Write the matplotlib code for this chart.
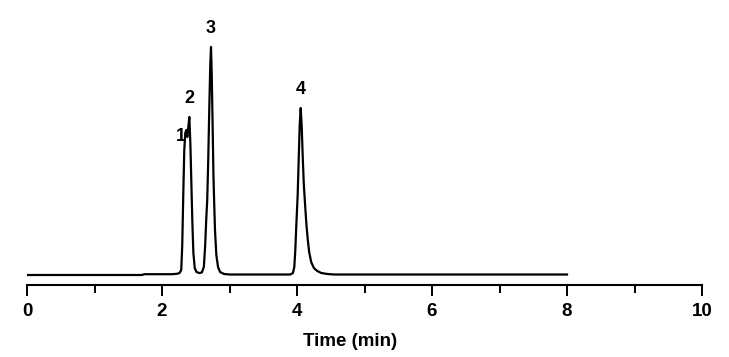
import matplotlib
matplotlib.use("Agg")
import matplotlib.pyplot as plt
from matplotlib.ticker import MultipleLocator

plt.rcParams['font.family'] = ['Liberation Sans', 'DejaVu Sans']
plt.rcParams['font.weight'] = 'bold'

# chromatogram trace (time in min, detector signal in a.u.)
time = [0.00, 1.70, 1.74, 2.15, 2.22, 2.26, 2.285, 2.30, 2.315, 2.33, 2.345,
        2.36, 2.375, 2.39, 2.405, 2.42, 2.435, 2.45, 2.465, 2.485, 2.51,
        2.55, 2.59, 2.62, 2.64, 2.655, 2.67, 2.685, 2.70, 2.715, 2.726,
        2.737, 2.75, 2.762, 2.772, 2.785, 2.805, 2.83, 2.86, 2.92, 3.00,
        3.90, 3.94, 3.96, 3.975, 3.99, 4.01, 4.025, 4.04, 4.055, 4.07,
        4.085, 4.10, 4.12, 4.14, 4.16, 4.18, 4.21, 4.25, 4.30, 4.36,
        4.45, 4.55, 8.00]
signal = [0, 0, 0.8, 0.8, 1.2, 2, 5, 30, 80, 125, 142,
          145, 138, 148, 158, 132, 92, 52, 22, 7, 3,
          2, 2.5, 8, 30, 55, 75, 115, 165, 210, 228,
          200, 150, 100, 75, 45, 20, 8, 3, 1, 0.5,
          0.5, 2, 8, 25, 50, 80, 115, 150, 167, 148,
          118, 92, 70, 50, 35, 23, 13, 7, 4, 2,
          1, 0.5, 0.5]

peak_names = ['1', '2', '3', '4']
peak_times = [2.36, 2.405, 2.726, 4.055]
peak_heights = [145, 158, 228, 167]

fig = plt.figure(figsize=(7.29, 3.57), dpi=100)
ax = fig.add_axes([27/729, 72/357, 675/729, 265/357])

ax.plot(time, signal, color='black', lw=1.6, solid_joinstyle='round')

# peak labels, placed relative to each apex
offsets = [(-4, -5), (0, 13.5), (0, 13), (0, 13.5)]
for name, t, h, off in zip(peak_names, peak_times, peak_heights, offsets):
    ax.annotate(name, (t, h), xytext=off, textcoords='offset points',
                ha='center', va='center', fontsize=13, fontweight='bold')

ax.set_xlim(0, 10)
ax.set_ylim(-10, 255)
ax.xaxis.set_major_locator(MultipleLocator(2))
ax.xaxis.set_minor_locator(MultipleLocator(1))
ax.tick_params(axis='x', which='major', direction='out', length=8, width=1.4,
               pad=5, labelsize=13.5)
ax.tick_params(axis='x', which='minor', direction='out', length=6, width=1.4)
ax.set_yticks([])
for s in ['top', 'right', 'left']:
    ax.spines[s].set_visible(False)
ax.spines['bottom'].set_linewidth(1.5)
ax.set_xlabel('Time (min)', fontsize=13.5, fontweight='bold', labelpad=9,
              x=0.479)

fig.savefig('out.png', dpi=100)
